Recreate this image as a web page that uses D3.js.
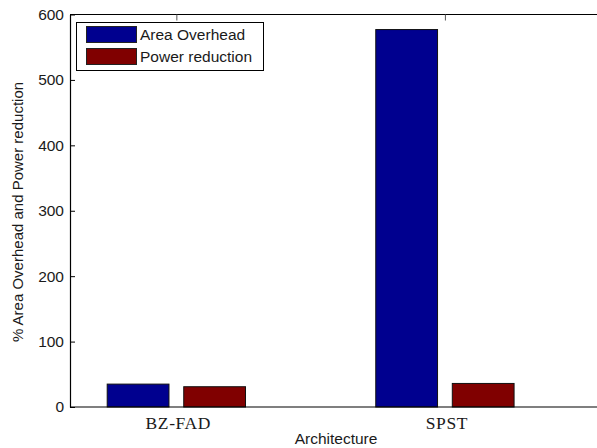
<!DOCTYPE html>
<html>
<head>
<meta charset="utf-8">
<script src="https://cdn.jsdelivr.net/npm/d3@7"></script>
<style>
  html, body { margin: 0; padding: 0; background: #fff; }
  svg { display: block; }
  text { font-family: "Liberation Sans", Arial, sans-serif; fill: #1a1a1a; }
</style>
</head>
<body>
<svg id="chart" width="597" height="448"></svg>
<script>
// Grouped bars: area overhead vs. power reduction per architecture
const categories = ["BZ-FAD", "SPST"];
const areaOverhead = [35, 577];
const powerReduction = [31, 36];
const seriesNames = ["Area Overhead", "Power reduction"];
const seriesColors = ["#00008f", "#800000"];
const yTicks = [0, 100, 200, 300, 400, 500, 600];

const svg = d3.select("#chart");
const W = 597, H = 448;

const plot = { left: 70, top: 14.5, right: 598, bottom: 407 };

// Categories sit at integer positions 1, 2 on a numeric axis
const x = d3.scaleLinear().domain([0.604, 2.57]).range([plot.left, plot.right]);
const y = d3.scaleLinear().domain([0, 600]).range([plot.bottom, plot.top]);

const barW = 0.23;
const offsets = [-0.1425, 0.1425];
const series = [areaOverhead, powerReduction];

// bars
series.forEach((vals, s) => {
  svg.append("g").selectAll("rect")
    .data(vals)
    .join("rect")
    .attr("x", (d, i) => x(i + 1 + offsets[s] - barW / 2))
    .attr("width", x(1 + barW) - x(1))
    .attr("y", d => y(d))
    .attr("height", d => y(0) - y(d))
    .attr("fill", seriesColors[s])
    .attr("stroke", "#111")
    .attr("stroke-width", 1);
});

// frame (top and bottom lines run off the right edge)
const frame = svg.append("g").attr("stroke", "#000").attr("stroke-width", 1.2).attr("fill", "none");
frame.append("line").attr("x1", plot.left).attr("x2", W + 5).attr("y1", plot.top).attr("y2", plot.top);
frame.append("line").attr("x1", plot.left).attr("x2", W + 5).attr("y1", plot.bottom).attr("y2", plot.bottom);

// y axis with inward ticks
const yAxis = d3.axisLeft(y).tickValues(yTicks).tickSizeInner(-5).tickSizeOuter(0).tickPadding(6);
const gy = svg.append("g").attr("transform", `translate(${plot.left},0)`).call(yAxis);
gy.select(".domain").attr("stroke", "#000").attr("stroke-width", 1.2);
gy.selectAll(".tick line").attr("stroke", "#000");
gy.selectAll(".tick text")
  .style("font-family", "'Liberation Sans', Arial, sans-serif")
  .style("font-size", "15.5px").attr("fill", "#1a1a1a");

// top-edge ticks at category positions
const xTop = d3.axisTop(x).tickValues([1, 2]).tickSizeInner(-6).tickSizeOuter(0).tickFormat("");
const gt = svg.append("g").attr("transform", `translate(0,${plot.top})`).call(xTop);
gt.select(".domain").remove();
gt.selectAll(".tick line").attr("stroke", "#555");

// category labels
svg.append("g").selectAll("text")
  .data(categories)
  .join("text")
  .attr("x", (d, i) => x(i + 1) + 2)
  .attr("y", 429)
  .attr("text-anchor", "middle")
  .style("font-family", "'Liberation Serif', 'Times New Roman', serif")
  .style("font-size", "17.5px")
  .style("letter-spacing", "0.6px")
  .text(d => d);

// axis titles
svg.append("text")
  .attr("x", 336).attr("y", 444)
  .attr("text-anchor", "middle")
  .style("font-size", "15.5px")
  .text("Architecture");

svg.append("text")
  .attr("transform", "translate(23,212) rotate(-90)")
  .attr("text-anchor", "middle")
  .style("font-size", "15px")
  .text("% Area Overhead and Power reduction");

// legend
const lg = svg.append("g");
lg.append("rect")
  .attr("x", 76.5).attr("y", 22.5).attr("width", 187).attr("height", 48)
  .attr("fill", "#fff").attr("stroke", "#000").attr("stroke-width", 1);
seriesNames.forEach((name, i) => {
  lg.append("rect")
    .attr("x", 86.5).attr("y", 26.5 + i * 22).attr("width", 50).attr("height", 16)
    .attr("fill", seriesColors[i]).attr("stroke", "#222").attr("stroke-width", 1);
  lg.append("text")
    .attr("x", 140).attr("y", 40 + i * 22)
    .style("font-size", "15.5px")
    .text(name);
});
</script>
</body>
</html>
